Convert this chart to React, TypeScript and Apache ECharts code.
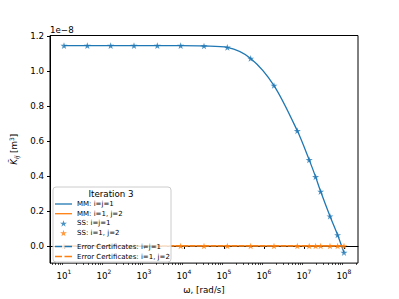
import React, { useEffect, useRef } from 'react';
import * as echarts from 'echarts';

// angular frequency samples [rad/s]
const freq = [10, 38.31, 146.8, 562.3, 2154.4, 8254, 31623, 121153, 464159, 1778279, 6812921, 13490000, 19500000, 26100000, 44670000, 69180000, 100000000];
// values in units of 1e-8 m^3
const mmK11 = [1.145, 1.145, 1.145, 1.145, 1.145, 1.145, 1.143, 1.135, 1.072, 0.917, 0.658, 0.492, 0.395, 0.311, 0.170, 0.063, -0.038];
const mmK12 = [0, 0, 0, 0, 0, 0, 0, 0, 0, 0, 0, 0, 0, 0, 0, 0, 0];
const ssK11 = [1.145, 1.145, 1.145, 1.145, 1.145, 1.145, 1.143, 1.135, 1.072, 0.917, 0.658, 0.492, 0.395, 0.311, 0.170, 0.063, -0.038];
const ssK12 = [0, 0, 0, 0, 0, 0, 0, 0, 0, 0, 0, 0, 0, 0, 0, 0, 0];
const ecK11 = [0, 0, 0, 0, 0, 0, 0, 0, 0, 0, 0, 0, 0, 0, 0, 0, 0];
const ecK12 = [0, 0, 0, 0, 0, 0, 0, 0, 0, 0, 0, 0, 0, 0, 0, 0, 0];

const yTicks = [0, 0.2, 0.4, 0.6, 0.8, 1.0, 1.2];
const xTicks = [10, 100, 1e3, 1e4, 1e5, 1e6, 1e7, 1e8];
const minorDecades = [1, 10, 100, 1e3, 1e4, 1e5, 1e6, 1e7, 1e8];
const minorMult = [2, 3, 4, 5, 6, 7, 8, 9];

const seriesNames = ['MM: i=j=1', 'MM: i=1, j=2', 'SS: i=j=1', 'SS: i=1, j=2', 'Error Certificates: i=j=1', 'Error Certificates: i=1, j=2'];

const BLUE = '#1f77b4';
const ORANGE = '#ff7f0e';
const STAR = 'path://M10,0L12.245,6.910L19.511,6.910L13.633,11.180L15.878,18.090L10,13.820L4.122,18.090L6.367,11.180L0.489,6.910L7.755,6.910Z';
const SOLID_ICON = 'path://M0,0L17,0L17,1.3L0,1.3Z';
const DASH_ICON = 'path://M0,0L7,0L7,1.3L0,1.3Z M9.5,0L17,0L17,1.3L9.5,1.3Z';
const FONT = 'DejaVu Sans';

const X_MIN = 4.467;
const X_MAX = 2.239e8;

export default function App() {
  const ref = useRef<HTMLDivElement>(null);
  useEffect(() => {
    if (!ref.current) return;
    const chart = echarts.init(ref.current, undefined, { renderer: 'svg' });
    const minorTicks: number[] = [];
    minorDecades.forEach((d) => minorMult.forEach((m) => {
      const v = d * m;
      if (v > X_MIN && v < X_MAX) minorTicks.push(v);
    }));
    const pair = (ys: number[]) => freq.map((f, i) => [f, ys[i]]);
    const lineSeries = (name: string, ys: number[], color: string, dashed: boolean, z: number) => ({
      name,
      type: 'line',
      data: pair(ys),
      symbol: 'none',
      smooth: dashed ? false : 0.3,
      color,
      lineStyle: { color, width: 1.3, type: dashed ? [5, 2] : 'solid' },
      z,
    });
    const starSeries = (name: string, ys: number[], color: string) => ({
      name,
      type: 'scatter',
      data: pair(ys),
      symbol: STAR,
      symbolSize: 7,
      symbolKeepAspect: true,
      itemStyle: { color },
      color,
      z: 3,
    });
    const legendBase = {
      orient: 'vertical',
      left: 55,
      padding: 0,
      itemWidth: 17,
      itemHeight: 6.5,
      selectedMode: false,
      textStyle: { fontFamily: FONT, fontSize: 7, color: '#000', lineHeight: 8 },
      z: 5,
    };
    chart.setOption({
      animation: false,
      textStyle: { fontFamily: FONT },
      grid: {
        left: 50, right: 41, top: 35.5, bottom: 33,
        show: true, borderColor: '#000', borderWidth: 1, backgroundColor: 'transparent',
      },
      xAxis: [
        {
          type: 'log',
          min: X_MIN,
          max: X_MAX,
          position: 'bottom',
          name: 'ω, [rad/s]',
          nameLocation: 'middle',
          nameGap: 17,
          nameTextStyle: { fontFamily: FONT, fontSize: 8.7, color: '#000' },
          axisLine: { show: true, lineStyle: { color: '#000', width: 1 } },
          axisTick: { show: true, length: 3, lineStyle: { color: '#000', width: 1 }, customValues: xTicks },
          splitLine: { show: false },
          axisLabel: {
            customValues: xTicks,
            margin: 5,
            color: '#000',
            formatter: (v: number) => `{b|10}{s|${Math.round(Math.log10(v))}}`,
            rich: {
              b: { fontFamily: FONT, fontSize: 8.7, color: '#000', verticalAlign: 'bottom', lineHeight: 12 },
              s: { fontFamily: FONT, fontSize: 6, color: '#000', verticalAlign: 'top', lineHeight: 7 },
            },
          },
        },
        {
          type: 'log',
          min: X_MIN,
          max: X_MAX,
          position: 'bottom',
          axisLine: { show: false },
          axisLabel: { show: false },
          splitLine: { show: false },
          axisTick: { show: true, length: 1.8, lineStyle: { color: '#000', width: 0.8 }, customValues: minorTicks },
        },
      ],
      yAxis: {
        type: 'value',
        min: -0.098,
        max: 1.203,
        name: '{k|K\u0303}{sub|ij} {n|[m}{sup|3}{n|]}',
        nameLocation: 'middle',
        nameRotate: 90,
        nameGap: 24,
        nameTextStyle: {
          fontFamily: FONT, fontSize: 8.7, color: '#000',
          rich: {
            k: { fontFamily: FONT, fontSize: 8.7, fontStyle: 'italic', color: '#000', verticalAlign: 'middle', lineHeight: 11 },
            sub: { fontFamily: FONT, fontSize: 6, fontStyle: 'italic', color: '#000', verticalAlign: 'bottom', lineHeight: 6 },
            n: { fontFamily: FONT, fontSize: 8.7, color: '#000', verticalAlign: 'middle', lineHeight: 11 },
            sup: { fontFamily: FONT, fontSize: 6, color: '#000', verticalAlign: 'top', lineHeight: 6 },
          },
        },
        axisLine: { show: true, lineStyle: { color: '#000', width: 1 } },
        axisTick: { show: true, length: 3, lineStyle: { color: '#000', width: 1 }, customValues: yTicks },
        splitLine: { show: false },
        axisLabel: {
          customValues: yTicks,
          margin: 6,
          color: '#000',
          fontFamily: FONT,
          fontSize: 8.7,
          formatter: (v: number) => v.toFixed(1),
        },
      },
      legend: [
        {
          ...legendBase, top: 200, itemGap: 1.7,
          data: [
            { name: seriesNames[0], icon: SOLID_ICON },
            { name: seriesNames[1], icon: SOLID_ICON },
            { name: seriesNames[2], icon: STAR },
            { name: seriesNames[3], icon: STAR },
          ],
        },
        {
          ...legendBase, top: 242.5, itemGap: 2,
          data: [
            { name: seriesNames[4], icon: DASH_ICON },
            { name: seriesNames[5], icon: DASH_ICON },
          ],
        },
      ],
      graphic: [
        {
          type: 'rect',
          z: 4,
          shape: { x: 53, y: 187, width: 118, height: 75, r: 3 },
          style: { fill: 'rgba(255,255,255,0.8)', stroke: '#cccccc', lineWidth: 1 },
        },
        {
          type: 'text',
          z: 5,
          x: 111,
          y: 194,
          style: { text: 'Iteration 3', fontFamily: FONT, fontSize: 8.7, fill: '#000', align: 'center', verticalAlign: 'middle' },
        },
        {
          type: 'text',
          z: 5,
          x: 50,
          y: 30,
          style: { text: '1e\u22128', fontFamily: FONT, fontSize: 8.7, fill: '#000', align: 'left', verticalAlign: 'middle' },
        },
      ],
      series: [
        lineSeries(seriesNames[0], mmK11, BLUE, false, 2),
        lineSeries(seriesNames[1], mmK12, ORANGE, false, 2),
        starSeries(seriesNames[2], ssK11, BLUE),
        starSeries(seriesNames[3], ssK12, ORANGE),
        lineSeries(seriesNames[4], ecK11, BLUE, true, 1),
        lineSeries(seriesNames[5], ecK12, ORANGE, true, 1),
      ],
    });
    return () => chart.dispose();
  }, []);
  return <div ref={ref} style={{ width: 399, height: 299, position: 'absolute', left: 0, top: 0 }} />;
}
